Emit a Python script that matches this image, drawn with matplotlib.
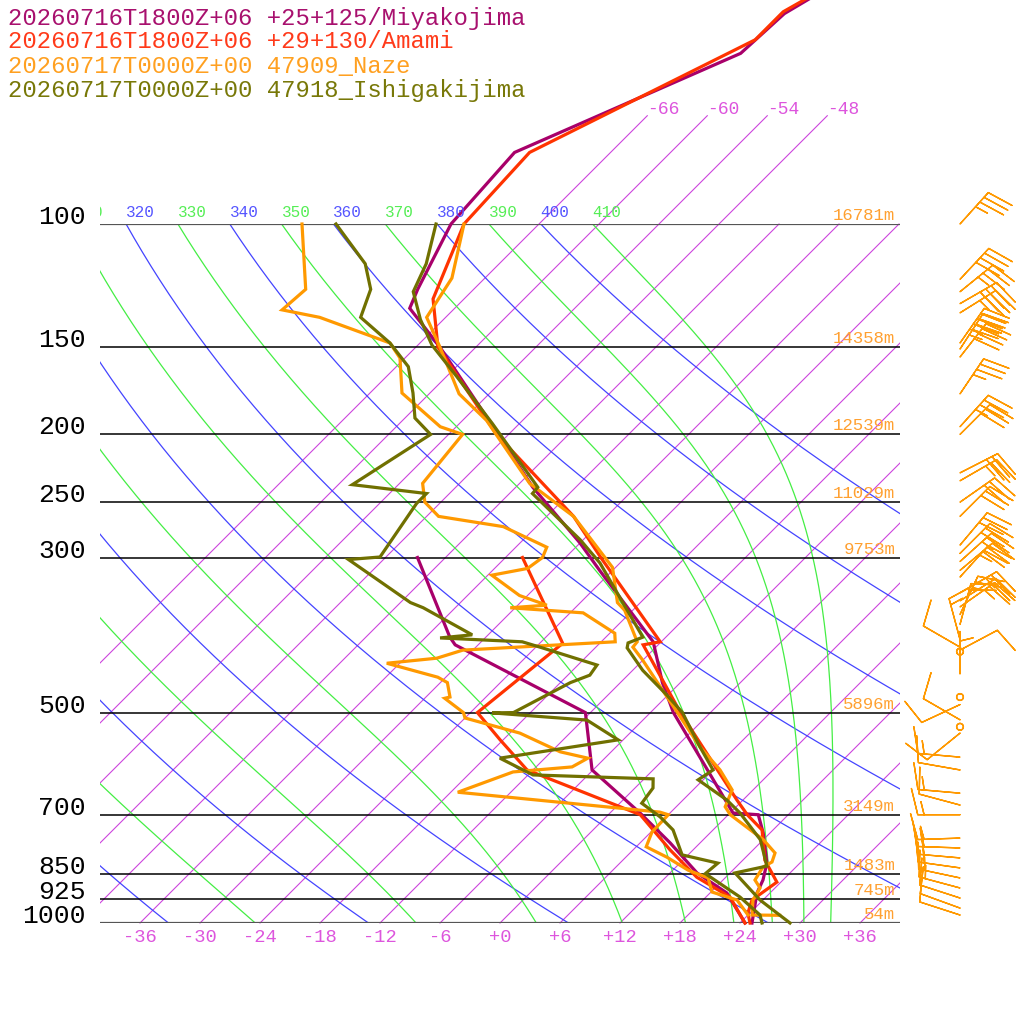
import numpy as np
import matplotlib
matplotlib.use('Agg')
import matplotlib.pyplot as plt
import matplotlib.transforms as mtransforms

# ---------------- data ----------------
legend_labels = ["20260716T1800Z+06 +25+125/Miyakojima",
                 "20260716T1800Z+06 +29+130/Amami",
                 "20260717T0000Z+00 47909_Naze",
                 "20260717T0000Z+00 47918_Ishigakijima"]
legend_colors = ["#a8106e", "#ff3a1a", "#ffa020", "#787808"]
line_colors = ["#a8006a", "#ff3300", "#ff9900", "#707000"]

pressure_levels = [100, 150, 200, 250, 300, 500, 700, 850, 925, 1000]
height_labels = ["16781m", "14358m", "12539m", "11029m", "9753m",
                 "5896m", "3149m", "1483m", "745m", "54m"]

isotherm_values = list(range(-66, 37, 6))
bottom_tick_values = list(range(-36, 37, 6))
dry_thetas = list(range(240, 401, 20))
moist_thetas = list(range(250, 411, 20))

# Miyakojima (model)
miya_t_p = [1000, 906, 868, 821, 743, 700, 696, 500, 453, 396, 313, 286, 238, 189, 150, 132, 124, 100, 79, 57, 50, 45]
miya_t = [25.2, 22.7, 22.0, 20.7, 17.3, 15.0, 12.3, -3.7, -7.8, -12.8, -25.3, -30.0, -40.3, -51.9, -63.6, -70.5, -71.6, -74.8, -75.6, -62.9, -62.5, -60.3]
miya_td_p = [1000, 906, 848, 768, 696, 604, 500, 400, 390, 300]
miya_td = [24.5, 19.7, 14.7, 9.0, 3.0, -6.1, -12.5, -32.3, -33.6, -44.8]

# Amami (model)
amami_t_p = [1000, 968, 927, 874, 813, 736, 700, 667, 500, 400, 396, 301, 262, 200, 150, 128, 100, 79, 54.5, 49.7, 45]
amami_t = [25.0, 23.8, 22.9, 23.6, 20.2, 16.9, 13.9, 11.4, -3.0, -13.5, -12.1, -26.3, -33.3, -49.2, -63.8, -69.1, -73.5, -74.1, -62.8, -62.8, -60.5]
amami_td_p = [1000, 918, 860, 786, 700, 604, 547, 500, 398, 300]
amami_td = [24.5, 20.4, 15.1, 9.7, 3.2, -12.6, -18.3, -23.3, -21.7, -34.3]

# Naze (observed)
naze_t_p = [975, 974, 927, 891, 868, 832, 818, 794, 760, 700, 682, 645, 604, 560, 507, 420, 403, 396, 357, 348, 310, 262, 235, 191, 175, 150, 136, 119.5, 100]
naze_t = [27.2, 24.4, 23.0, 22.5, 21.2, 20.7, 21.1, 20.5, 18.0, 12.2, 10.9, 9.9, 6.7, 2.4, -2.6, -12.1, -14.3, -14.4, -18.8, -20.3, -24.3, -33.3, -41.0, -51.6, -57.0, -63.6, -67.9, -69.3, -73.5]
naze_td_p = [100, 124, 132.7, 136, 148, 155.5, 174.5, 195, 200, 235, 250, 262, 271, 290, 300, 311, 318, 340, 351, 354, 360, 385, 396, 407, 418, 425, 445, 453, 475, 477, 500, 509, 535, 569, 581, 598, 608, 650, 694, 700, 741, 778, 805, 840, 862, 903, 927, 974]
naze_td = [-89.7, -82.8, -83.1, -78.6, -69.0, -66.5, -62.8, -55.6, -52.6, -51.7, -49.6, -46.8, -39.3, -32.9, -32.3, -32.7, -35.6, -30.8, -27.1, -30.5, -22.7, -17.5, -16.6, -31.0, -32.8, -37.3, -30.8, -29.3, -27.6, -28.0, -24.7, -24.0, -17.0, -11.1, -7.7, -8.4, -13.8, -17.3, 4.9, 6.0, 6.1, 7.0, 10.1, 13.5, 16.3, 18.1, 21.4, 24.0]

# Ishigakijima (observed)
ishi_t_p = [100, 114, 125, 137, 149, 165.5, 193, 238, 243, 251, 283, 305.5, 342, 390, 397.5, 404, 435, 472, 500, 560, 604, 624, 667, 696, 760, 829, 848, 927, 1000]
ishi_t = [-76.3, -73.3, -71.8, -68.3, -64.6, -58.9, -50.7, -39.8, -39.7, -37.7, -30.3, -26.0, -20.6, -14.3, -15.2, -14.8, -11.0, -6.1, -2.8, 2.4, 6.0, 5.5, 10.4, 13.0, 17.7, 21.0, 18.5, 23.7, 29.0]
ishi_td_p = [100, 114, 124, 136, 148, 160, 174.5, 189.5, 200, 236, 243, 251, 299.5, 302, 348, 354, 387, 391, 396, 403, 427.5, 442, 453, 500, 500.5, 512.5, 547, 581, 614, 622, 641, 674, 705, 736, 799, 821, 850, 918, 974, 1000]
ishi_td = [-86.3, -79.4, -76.3, -74.5, -69.0, -64.8, -61.7, -59.0, -55.8, -58.6, -50.3, -50.3, -48.6, -51.5, -41.0, -39.2, -31.6, -34.5, -25.9, -23.6, -16.1, -15.8, -17.0, -19.7, -21.8, -11.6, -6.5, -16.5, -11.5, 0.9, 1.8, 2.2, 5.4, 8.0, 11.4, 15.8, 15.6, 21.4, 25.2, 26.2]

# Naze winds (pressure hPa, direction deg, speed kt)
wind_p = [100, 120, 125, 130, 134, 148, 151, 155, 175, 195, 200, 227, 233, 250, 262,
          288, 296, 304, 313, 320, 337, 346, 353, 362, 374, 393, 403, 407, 409, 440,
          475, 487, 512, 524, 535, 579, 604, 652, 678, 700, 756, 781, 807, 834, 862,
          891, 921, 952, 974]
wind_dir = [42, 43, 51, 60, 58, 35, 33, 38, 34, 42, 45, 63, 60, 55, 45,
            40, 45, 48, 50, 42, 60, 58, 55, 25, 15, 345, 300, 62, 0, 0,
            0, 245, 300, 0, 231, 275, 280, 275, 285, 270, 268, 272, 275, 278, 282,
            285, 288, 290, 288]
wind_spd = [35, 40, 35, 40, 35, 45, 45, 40, 35, 35, 30, 30, 25, 30, 30,
            30, 30, 25, 30, 25, 25, 20, 25, 25, 20, 15, 10, 10, 0, 5,
            0, 10, 10, 0, 10, 15, 10, 15, 10, 15, 15, 15, 20, 15, 15,
            15, 10, 10, 10]

# ---------------- figure ----------------
W = 1024
fig = plt.figure(figsize=(10.24, 10.24), dpi=100)
L, R, TOP, BOT = 100, 900, 224, 923
ax = fig.add_axes([L / W, 1 - BOT / W, (R - L) / W, (BOT - TOP) / W])
ax.set_yscale('log')
ax.set_ylim(1000, 100)
ax.set_xlim(-29.9, 50.1)
ax.set_autoscale_on(False)
ax.axis('off')

skew = mtransforms.Affine2D().skew_deg(45, 0)
tr = ax.transData + skew

MONO = 'Liberation Mono'
wide_clip = mtransforms.TransformedBbox(mtransforms.Bbox([[L / W, 0], [R / W, 1]]), fig.transFigure)
label_clip = mtransforms.TransformedBbox(mtransforms.Bbox([[L / W, 0], [1, 1]]), fig.transFigure)

# isotherms
for t in isotherm_values:
    ptop = 70 if t <= -48 else 100
    ln, = ax.plot([t, t], [1000, ptop], color='#cc44dd', lw=0.8, transform=tr)
    ln.set_clip_box(wide_clip)
    if ptop == 70:
        ax.text(t, 70, '%d' % t, color='#dd55dd', fontsize=13,
                family=MONO, ha='left', va='bottom',
                transform=tr + mtransforms.Affine2D().translate(0, -2))

CHAR_W = 9.6  # pixel advance of the 11.5pt mono label font


def add_theta_label(tval, th, color):
    xpix = tr.transform((tval, 100))[0]
    s = str(th)
    shift = 0
    # drop characters that fall entirely left of the plot box (clipped in reference)
    while s and xpix + shift + CHAR_W * 0.7 < L:
        s = s[1:]
        shift += CHAR_W
    if not s:
        return
    txt = ax.text(tval, 100, s, color=color, fontsize=11.5, family=MONO,
                  ha='left', va='bottom',
                  transform=tr + mtransforms.Affine2D().translate(shift, 4))
    txt.set_clip_box(label_clip)
    txt.set_clip_on(True)


# dry adiabats
pp = np.geomspace(100, 1000, 300)
kappa = 287.04 / 1005.7
for th in dry_thetas:
    tt = th * (pp / 1000.0) ** kappa - 273.15
    ax.plot(tt, pp, color='#4444ff', lw=0.9, transform=tr)
    add_theta_label(tt[0], th, '#5555ff')


def moist_adiabat(theta_top, parr):
    Rd, Cp, Lv, eps = 287.04, 1005.7, 2.501e6, 0.622

    def f(T, p):
        es = 6.112 * np.exp(17.67 * (T - 273.15) / (T - 29.65))
        rs = eps * es / (p - es)
        return (Rd * T + Lv * rs) / (Cp + Lv * Lv * rs * eps / (Rd * T * T))

    T = theta_top * (0.1) ** (Rd / Cp)
    out = [T]
    lnp = np.log(parr)
    for i in range(len(parr) - 1):
        h = lnp[i + 1] - lnp[i]
        pm = np.exp(lnp[i] + h / 2)
        k1 = f(T, parr[i])
        k2 = f(T + h / 2 * k1, pm)
        k3 = f(T + h / 2 * k2, pm)
        k4 = f(T + h * k3, parr[i + 1])
        T = T + h / 6 * (k1 + 2 * k2 + 2 * k3 + k4)
        out.append(T)
    return np.array(out) - 273.15


for th in moist_thetas:
    tt = moist_adiabat(th, pp)
    ax.plot(tt, pp, color='#44ee44', lw=0.9, transform=tr)
    add_theta_label(tt[0], th, '#55ee55')

# pressure lines and labels
ylab = mtransforms.blended_transform_factory(ax.transAxes, ax.transData)
for p, h in zip(pressure_levels, height_labels):
    edge = p in (100, 1000)
    ax.axhline(p, color='#555555' if edge else 'black', lw=1.6 if edge else 1.1)
    ax.text(-0.0175, p, str(p), color='black', fontsize=19, family=MONO, ha='right',
            va='bottom', transform=ylab + mtransforms.Affine2D().translate(0, -5))
    ax.text(0.994, p, h, color='#ffa030', fontsize=12.5, family=MONO, ha='right',
            va='bottom', transform=ylab + mtransforms.Affine2D().translate(0, 1))

# bottom temperature labels
for t in bottom_tick_values:
    lab = '%+d' % t
    ax.text(t, 1000, lab, color='#dd55dd', fontsize=13.5, family=MONO, ha='center',
            va='center', transform=tr + mtransforms.Affine2D().translate(0, -14))

# profiles
profiles = [
    (miya_t_p, miya_t, miya_td_p, miya_td),
    (amami_t_p, amami_t, amami_td_p, amami_td),
    (naze_t_p, naze_t, naze_td_p, naze_td),
    (ishi_t_p, ishi_t, ishi_td_p, ishi_td),
]
for (tp, tv, dp, dv), col in zip(profiles, line_colors):
    ax.plot(dv, dp, color=col, lw=2.3, transform=tr, clip_on=False, solid_joinstyle='miter')
    ax.plot(tv, tp, color=col, lw=2.3, transform=tr, clip_on=False, solid_joinstyle='miter')

# legend text
for i, (lab, col) in enumerate(zip(legend_labels, legend_colors)):
    fig.text(8 / W, 1 - (18 + 24 * i) / W, lab, color=col, fontsize=17.2, family=MONO,
             ha='left', va='center')

# wind barbs
ax2 = fig.add_axes([910 / W, 1 - BOT / W, 100 / W, (BOT - TOP) / W])
ax2.set_yscale('log')
ax2.set_ylim(1000, 100)
ax2.set_xlim(-1, 1)
ax2.axis('off')
wd = np.radians(np.array(wind_dir, dtype=float))
ws = np.array(wind_spd, dtype=float)
u = -ws * np.sin(wd)
v = -ws * np.cos(wd)
ax2.barbs(np.zeros(len(wind_p)), np.array(wind_p, dtype=float), u, v, length=7.8,
          color='#ff9900', linewidth=1.0, clip_on=False,
          sizes=dict(emptybarb=0.08, spacing=0.15, height=0.62, width=0.3))

fig.savefig('out.png', dpi=100)
